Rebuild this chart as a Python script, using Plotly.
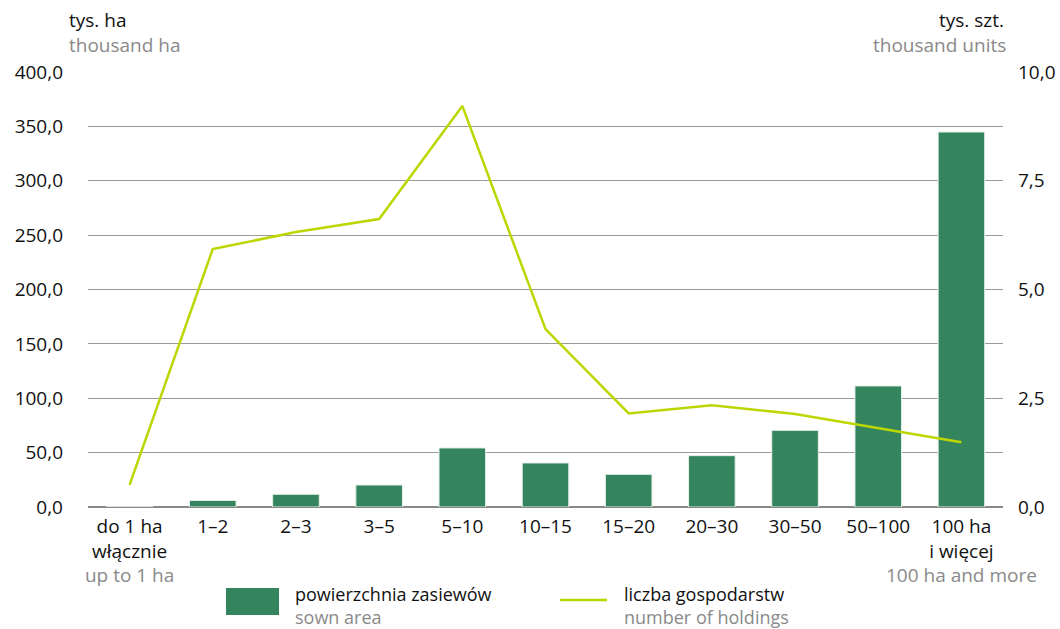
import plotly.graph_objects as go

categories = ["do 1 ha włącznie", "1–2", "2–3", "3–5", "5–10", "10–15", "15–20",
              "20–30", "30–50", "50–100", "100 ha i więcej"]
tick_pl = ["do 1 ha<br>włącznie", "1–2", "2–3", "3–5", "5–10", "10–15", "15–20",
           "20–30", "30–50", "50–100", "100 ha<br>i więcej"]
tick_en = ["up to 1 ha", "", "", "", "", "", "", "", "", "", "100 ha and more"]
sown_area = [0.2, 6.0, 11.7, 20.2, 54.3, 40.5, 30.0, 47.2, 70.5, 111.3, 344.8]
holdings = [0.51, 5.93, 6.32, 6.62, 9.22, 4.09, 2.15, 2.34, 2.14, 1.82, 1.49]
left_ticks = [0, 50, 100, 150, 200, 250, 300, 350, 400]
right_ticks = [0, 2.5, 5, 7.5, 10]

BAR = "#34845d"
LINE = "#bcd600"
GRAY = "#8a8a8a"
FONT = "Open Sans, Noto Sans, sans-serif"
FS = 19

ticktext = []
for pl, en in zip(tick_pl, tick_en):
    t = pl
    if en:
        t += f"<br><span style='color:{GRAY}'>{en}</span>"
    ticktext.append(t)

def fmt(v, dec=1):
    return f"{v:.{dec}f}".replace(".", ",")

fig = go.Figure()
fig.add_trace(go.Bar(x=categories, y=sown_area, name="powierzchnia zasiewów",
                     marker=dict(color=BAR, line=dict(color="#e6efe9", width=1)),
                     width=0.56, yaxis="y"))
fig.add_trace(go.Scatter(x=categories, y=holdings, name="liczba gospodarstw",
                         mode="lines", line=dict(color=LINE, width=2.5), yaxis="y2"))

PX0, PX1, PY0, PY1 = 88, 1003, 72, 507

fig.update_layout(
    template="none",
    width=1060, height=629,
    margin=dict(l=PX0, r=1060 - PX1, t=PY0, b=629 - PY1, pad=0, autoexpand=False),
    plot_bgcolor="white", paper_bgcolor="white",
    font=dict(family=FONT, size=FS, color="#111111"),
    showlegend=False,
    xaxis=dict(tickmode="array", tickvals=categories, ticktext=ticktext, tickangle=0,
               showgrid=False, ticks="", showline=False, zeroline=False,
               automargin=False, tickfont=dict(size=FS), ticklabelstandoff=6),
    yaxis=dict(range=[0, 400], tickvals=left_ticks, ticktext=[fmt(v) for v in left_ticks],
               showgrid=True, gridcolor="#9a9a9a", gridwidth=1, zeroline=True,
               zerolinecolor="#888888", zerolinewidth=1.5, ticks="", showline=False,
               ticklabelstandoff=24, automargin=False),
    yaxis2=dict(range=[0, 10], tickvals=right_ticks, ticktext=[fmt(v) for v in right_ticks],
                overlaying="y", side="right", showgrid=False, zeroline=False, ticks="",
                showline=False, ticklabelstandoff=14, automargin=False),
)

def to_paper(px, py):
    return (px - PX0) / (PX1 - PX0), (PY1 - py) / (PY1 - PY0)

def annot(text, px, py, color, anchor="left", size=FS):
    x, y = to_paper(px, py)
    fig.add_annotation(text=text, x=x, y=y, xref="paper", yref="paper",
                       xanchor=anchor, yanchor="middle", showarrow=False,
                       font=dict(size=size, color=color))

annot("tys. ha", 67, 20, "#111111", "left")
annot("thousand ha", 67, 45, GRAY, "left")
annot("tys. szt.", 1006, 20, "#111111", "right")
annot("thousand units", 1008, 45, GRAY, "right")

# legend
lx0, ly0 = to_paper(226, 588)
lx1, ly1 = to_paper(279, 615)
fig.add_shape(type="rect", xref="paper", yref="paper", x0=lx0, x1=lx1, y0=ly1, y1=ly0,
              fillcolor=BAR, line=dict(width=0))
annot("powierzchnia zasiewów", 293, 594, "#111111", size=18)
annot("sown area", 293, 617, GRAY, size=18)
sx0, sy = to_paper(560, 600)
sx1, _ = to_paper(607, 600)
fig.add_shape(type="line", xref="paper", yref="paper", x0=sx0, x1=sx1, y0=sy, y1=sy,
              line=dict(color=LINE, width=2.5))
annot("liczba gospodarstw", 622, 594, "#111111", size=18)
annot("number of holdings", 622, 617, GRAY, size=18)

fig.write_html("out.html", config={"displayModeBar": False},
               post_script="document.body.style.margin='0';document.body.style.overflow='hidden';")
